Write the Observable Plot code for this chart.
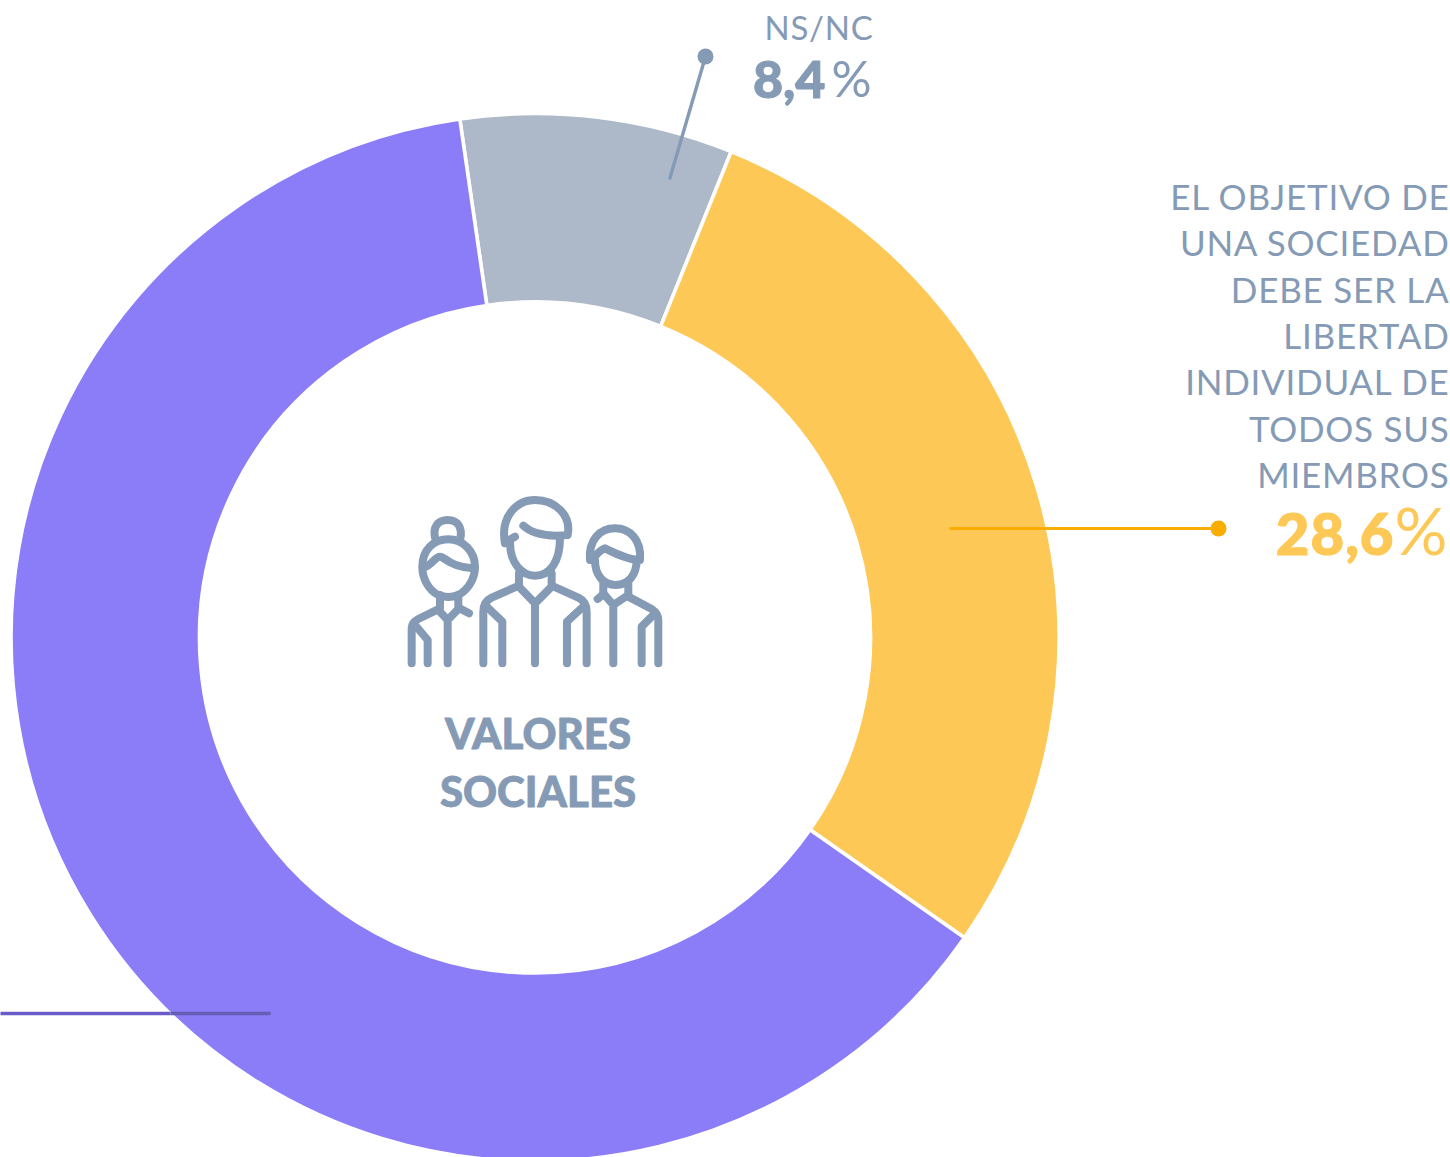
<!DOCTYPE html>
<html><head><meta charset="utf-8">
<style>html,body{margin:0;padding:0;background:#fff}svg{display:block}
.spaced text{letter-spacing:0.75px}
.wide text{letter-spacing:1px}</style>
<script src="https://cdn.jsdelivr.net/npm/d3@7"></script>
<script src="https://cdn.jsdelivr.net/npm/@observablehq/plot@0.6"></script>
</head><body>
<script>
const categories = ["NS/NC", "EL OBJETIVO DE UNA SOCIEDAD DEBE SER LA LIBERTAD INDIVIDUAL DE TODOS SUS MIEMBROS", "OTRA RESPUESTA"];
const values = [8.4, 28.6, 63.0];
const sliceColors = ["#adb8c9", "#fdc855", "#8b7cf8"];
const centerTitle = ["VALORES", "SOCIALES"];
const objetivoLines = ["EL OBJETIVO DE", "UNA SOCIEDAD", "DEBE SER LA", "LIBERTAD", "INDIVIDUAL DE", "TODOS SUS", "MIEMBROS"];

const W = 1450, H = 1157, cx = 535, cy = 637.5;
const font = "Lato, sans-serif", grey = "#859ab4";
const slices = categories.map((category, i) => ({category, value: values[i]}));
const pie = d3.pie().value(d => d.value).sort(null)
  .startAngle(-8.25 * Math.PI / 180).endAngle((360 - 8.25) * Math.PI / 180);

const donut = Plot.dot(slices, {
  x: () => cx, y: () => cy, fill: "category",
  render(index, scales, channels) {
    const arc = d3.arc().innerRadius(335.5).outerRadius(524);
    const arcs = pie(slices);
    const g = d3.create("svg:g");
    for (const i of index) {
      g.append("path")
        .attr("transform", `translate(${channels.x[i]},${channels.y[i]})`)
        .attr("d", arc(arcs[i]))
        .attr("fill", channels.fill[i])
        .attr("stroke", "#fff").attr("stroke-width", 3.6);
    }
    return g.node();
  }
});

const iconPaths = [
  // man
  "M330 175C315 95 365 45 420 45C480 45 530 90 518 150C470 155 415 150 385 122",
  "M330 172L360 155M345 170C345 235 380 272 420 272C465 272 495 230 495 160",
  "M372 265V302L290 338Q265 350 265 380V535M470 265V302L550 338Q575 350 575 380V535",
  "M372 305L420 355L470 305M420 355V535M272 362L322 410V535M568 362L516 410V535",
  // woman
  "M122 165C110 125 130 105 158 105C186 105 205 125 195 165",
  "M130 330C100 315 82 280 82 245C82 195 115 163 160 163C205 163 240 200 240 245C240 280 220 315 190 330C170 338 150 338 130 330",
  "M92 245C110 240 120 215 135 215C150 215 160 245 235 250",
  "M135 330V370L70 402Q50 412 50 430V535M190 330V368L222 385",
  "M130 375L158 405L190 372M158 405V535M60 420L98 465V535",
  // boy
  "M585 225C580 165 615 130 660 130C705 130 740 165 735 225C700 225 660 205 630 190C615 195 605 210 590 222",
  "M600 225C600 270 625 300 662 300C700 300 725 270 725 225",
  "M625 295V328L608 342M700 295V335L770 372Q790 385 790 405V535",
  "M625 325L655 360L700 330M655 360V535M780 385L740 425V535"
];
const icon = () => {
  const g = d3.create("svg:g")
    .attr("transform", "translate(395,485) scale(0.3333)")
    .attr("fill", "none").attr("stroke", grey).attr("stroke-width", 24)
    .attr("stroke-linecap", "round").attr("stroke-linejoin", "round");
  for (const d of iconPaths) g.append("path").attr("d", d);
  return g.node();
};

const comma = d => String(d).replace(".", ",");
const chart = Plot.plot({
  width: W, height: H, margin: 0,
  style: {background: "#fff", fontFamily: font},
  x: {domain: [0, W], range: [0, W], axis: null},
  y: {domain: [0, H], range: [0, H], axis: null},
  color: {domain: categories, range: sliceColors},
  marks: [
    donut,
    // leader lines
    Plot.link([0], {x1: () => 669, y1: () => 179, x2: () => 705, y2: () => 56, stroke: grey, strokeWidth: 3.4}),
    Plot.dot([0], {x: () => 705, y: () => 56, r: 8, fill: grey}),
    Plot.link([0], {x1: () => 949, y1: () => 528, x2: () => 1218, y2: () => 528, stroke: "#f9ad00", strokeWidth: 3}),
    Plot.dot([0], {x: () => 1218, y: () => 528, r: 8, fill: "#f9ad00"}),
    Plot.link([0], {x1: () => 0, y1: () => 1013, x2: () => 170, y2: () => 1013, stroke: "#6a5cc8", strokeWidth: 3.4}),
    Plot.link([0], {x1: () => 170, y1: () => 1013, x2: () => 270, y2: () => 1013, stroke: "#665db4", strokeWidth: 3.4}),
    icon,
    // centre title
    Plot.text(centerTitle, {x: () => 537.5, y: (d, i) => 735 + i * 58.5, text: d => d, fontSize: 42, fontWeight: 900, fill: grey, stroke: grey, strokeWidth: 0.8, textAnchor: "middle", lineAnchor: "middle"}),
    // NS/NC
    Plot.text([categories[0]], {x: () => 873, y: () => 29, text: d => d, fontSize: 33, fontWeight: 400, fill: grey, textAnchor: "end", lineAnchor: "middle", className: "spaced"}),
    Plot.text([values[0]], {x: () => 825, y: () => 81, text: comma, fontSize: 52, fontWeight: 900, fill: grey, stroke: grey, strokeWidth: 1, textAnchor: "end", lineAnchor: "middle"}),
    Plot.text(["%"], {x: () => 871, y: () => 80, text: d => d, fontSize: 50, fontWeight: 400, fill: grey, textAnchor: "end", lineAnchor: "middle"}),
    // Objetivo
    Plot.text(objetivoLines, {x: () => 1449, y: (d, i) => 198 + i * 46.4, text: d => d, fontSize: 35, fontWeight: 400, fill: grey, textAnchor: "end", lineAnchor: "middle", className: "spaced"}),
    Plot.text([values[1]], {x: () => 1394, y: () => 536, text: comma, fontSize: 58, fontWeight: 900, fill: "#fdc855", stroke: "#fdc855", strokeWidth: 1.2, textAnchor: "end", lineAnchor: "middle", className: "wide"}),
    Plot.text(["%"], {x: () => 1447, y: () => 533, text: d => d, fontSize: 66, fontWeight: 400, fill: "#fdc855", textAnchor: "end", lineAnchor: "middle"})
  ]
});
document.body.appendChild(chart);
</script>
</body></html>
